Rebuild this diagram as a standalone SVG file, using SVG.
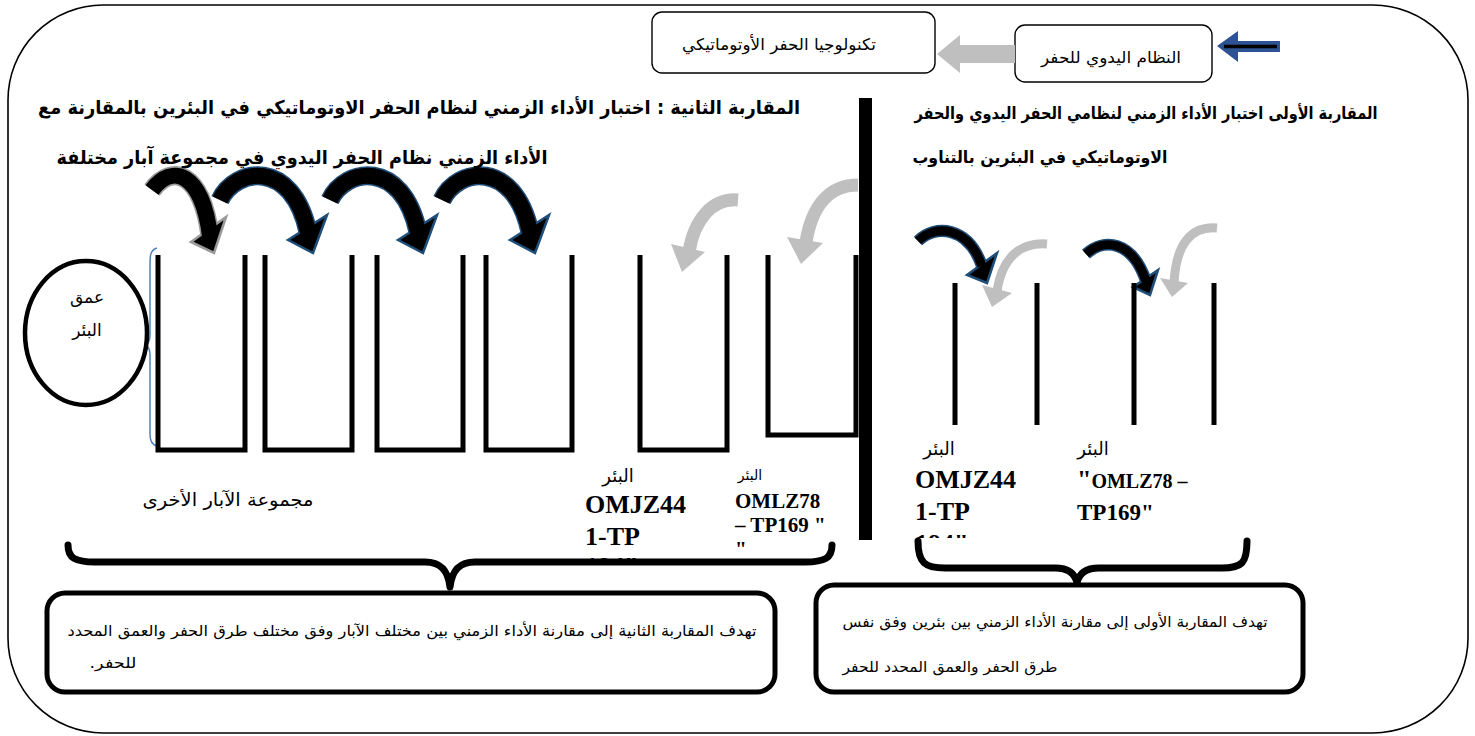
<svg xmlns="http://www.w3.org/2000/svg" width="1475" height="736" viewBox="0 0 1475 736">
<defs>
<style>
.ar { font-family: "DejaVu Sans", sans-serif; direction: rtl; fill: #000; }
.tb { font-weight: bold; }
.lat { font-family: "Liberation Serif", "Times New Roman", serif; font-weight: bold; fill: #000; }
.frame { fill: none; stroke: #000; stroke-width: 1.6; }
.tbox { fill: #fff; stroke: #000; stroke-width: 1.4; }
.bbox { fill: #fff; stroke: #000; stroke-width: 5; }
.well { fill: none; stroke: #000; stroke-width: 5; }
.brace { fill: none; stroke: #000; stroke-width: 7; stroke-linecap: round; stroke-linejoin: round; }
.gshaft { fill: none; stroke: #BFBFBF; stroke-width: 13; }
.gshaft2 { fill: none; stroke: #BFBFBF; stroke-width: 9; }
.ghead { fill: #BFBFBF; }
.bout { fill: none; stroke: #1F4E79; stroke-width: 19; }
.bshaft { fill: none; stroke: #000; stroke-width: 16; }
.bout2 { fill: none; stroke: #1F4E79; stroke-width: 12; }
.bshaft2 { fill: none; stroke: #000; stroke-width: 9; }
.bhead { fill: #000; stroke: #1F4E79; stroke-width: 2.5; stroke-linejoin: miter; }
</style>
<clipPath id="clipL"><rect x="560" y="440" width="160" height="123"/></clipPath>
<clipPath id="clipR"><rect x="900" y="420" width="160" height="118"/></clipPath>
<g id="barrow">
<path class="bout" d="M0,0 C15,-32 72,-42 88,32"/>
<polygon class="bhead" points="68,40 107,15 93,53"/>
<path class="bshaft" d="M0,0 C15,-32 72,-42 88,32"/>
</g>
</defs>

<rect class="frame" x="8" y="5" width="1460" height="728" rx="95" ry="95"/>

<g id="node-auto">
<rect class="tbox" x="652" y="12" width="283" height="61" rx="10"/>
<text class="ar" x="779" y="50" font-size="16" text-anchor="middle" textLength="194" lengthAdjust="spacingAndGlyphs">تكنولوجيا الحفر الأوتوماتيكي</text>
</g>
<g id="node-manual">
<rect class="tbox" x="1015" y="25" width="197" height="57" rx="10"/>
<text class="ar" x="1111" y="63" font-size="16" text-anchor="middle" textLength="140" lengthAdjust="spacingAndGlyphs">النظام اليدوي للحفر</text>
</g>

<g id="connectors">
<polygon fill="#BFBFBF" points="937,54 960,35 960,45 1015,45 1015,63 960,63 960,73"/>
<polygon fill="#2E5395" points="1217,46 1238,31 1238,41 1280,41 1280,52 1238,52 1238,62"/>
<line x1="1224" y1="46.5" x2="1277" y2="46.5" stroke="#000" stroke-width="3.5"/>

<path fill="none" stroke="#9A9A9A" stroke-width="19" d="M152,190 C172,163 202,172 210,236"/>
<polygon fill="#000" stroke="#9A9A9A" stroke-width="2.5" points="191,242 226,217 214,253"/>
<path class="bshaft" d="M152,190 C172,163 202,172 210,236"/>
<use href="#barrow" transform="translate(220,200)"/>
<use href="#barrow" transform="translate(330,200)"/>
<use href="#barrow" transform="translate(442,200)"/>

<path class="gshaft" d="M738,200 C712,198 694,220 689,252"/>
<polygon class="ghead" points="671,244 705,252 682,272"/>
<path class="gshaft" d="M858,185 C830,185 812,205 806,242"/>
<polygon class="ghead" points="787,237 823,243 801,264"/>

<path class="bout2" d="M918,241 C935,224 968,226 982,266"/>
<polygon class="bhead" points="967,275 997,253 987,283"/>
<path class="bshaft2" d="M918,241 C935,224 968,226 982,266"/>
<path class="gshaft2" d="M1047,244 C1020,242 1002,258 997,291"/>
<polygon class="ghead" points="982,285 1012,293 992,307"/>
<path class="bout2" d="M1086,254 C1104,238 1132,240 1146,281"/>
<polygon class="bhead" points="1133,287 1158,270 1150,295"/>
<path class="bshaft2" d="M1086,254 C1104,238 1132,240 1146,281"/>
<path class="gshaft2" d="M1217,228 C1190,226 1176,245 1174,283"/>
<polygon class="ghead" points="1160,278 1188,283 1172,297"/>

<path fill="none" stroke="#4F81BD" stroke-width="1.5" d="M157,248 C150,250 150,256 150,265 L150,335 C150,341 148,344 145,345 C148,346 150,349 150,355 L150,433 C150,440 151,444 157,446"/>
<path class="brace" d="M68,545 C68,558 75,562 95,562 L425,562 C440,562 448,570 450,587 C452,570 460,562 475,562 L805,562 C825,562 832,558 832,545"/>
<path class="brace" d="M918,541 C918,563 925,568 945,568 L1055,568 C1068,568 1075,573 1077,583 C1079,573 1086,568 1099,568 L1222,568 C1242,568 1247,563 1247,541"/>
</g>

<rect x="859" y="98" width="13" height="442" fill="#000"/>

<g id="title-left">
<text class="ar tb" x="419" y="114" font-size="19" text-anchor="middle" textLength="762" lengthAdjust="spacingAndGlyphs">المقاربة الثانية : اختبار الأداء الزمني لنظام الحفر الاوتوماتيكي في البئرين بالمقارنة مع</text>
<text class="ar tb" x="302" y="164" font-size="19" text-anchor="middle" textLength="491" lengthAdjust="spacingAndGlyphs">الأداء الزمني نظام الحفر اليدوي في مجموعة آبار مختلفة</text>
</g>
<g id="title-right">
<text class="ar tb" x="1146" y="119" font-size="17" text-anchor="middle" textLength="463" lengthAdjust="spacingAndGlyphs">المقاربة الأولى اختبار الأداء الزمني لنظامي الحفر اليدوي والحفر</text>
<text class="ar tb" x="1040" y="163" font-size="17" text-anchor="middle" textLength="255" lengthAdjust="spacingAndGlyphs">الاوتوماتيكي في البئرين بالتناوب</text>
</g>

<g id="wells-left">
<path class="well" d="M158,255 V450 H245 V255"/>
<path class="well" d="M265,255 V450 H352 V255"/>
<path class="well" d="M377,255 V450 H463 V255"/>
<path class="well" d="M486,255 V450 H572 V255"/>
<path class="well" d="M640,255 V450 H727 V255"/>
<path class="well" d="M768,255 V435 H856 V255"/>
</g>
<g id="wells-right">
<path class="well" d="M955,283 V425 M1037,283 V425"/>
<path class="well" d="M1134,283 V425 M1214,283 V425"/>
</g>

<g id="depth">
<ellipse cx="86" cy="333" rx="61" ry="72" fill="#fff" stroke="#000" stroke-width="4.5"/>
<text class="ar" x="87" y="303" font-size="17" text-anchor="middle">عمق</text>
<text class="ar" x="87" y="336" font-size="17" text-anchor="middle">البئر</text>
</g>

<g id="label-others">
<text class="ar" x="228" y="506" font-size="18" text-anchor="middle" textLength="171" lengthAdjust="spacingAndGlyphs">مجموعة الآبار الأخرى</text>
</g>

<g id="label-well5">
<text class="ar" x="618" y="482" font-size="18" text-anchor="middle">البئر</text>
<g clip-path="url(#clipL)">
<text class="lat" x="585" y="513" font-size="26">OMJZ44</text>
<text class="lat" x="585" y="545" font-size="26">1-TP</text>
<text class="lat" x="585" y="575" font-size="26">194"</text>
</g>
</g>
<g id="label-well6">
<text class="ar" x="750" y="480" font-size="14" text-anchor="middle">البئر</text>
<text class="lat" x="735" y="508" font-size="21">OMLZ78</text>
<text class="lat" x="735" y="532" font-size="21">– TP169 "</text>
<text class="lat" x="735" y="556" font-size="21">"</text>
</g>
<g id="label-wellA">
<text class="ar" x="939" y="455" font-size="18" text-anchor="middle">البئر</text>
<g clip-path="url(#clipR)">
<text class="lat" x="915" y="488" font-size="26">OMJZ44</text>
<text class="lat" x="915" y="520" font-size="26">1-TP</text>
<text class="lat" x="915" y="552" font-size="26">194"</text>
</g>
</g>
<g id="label-wellB">
<text class="ar" x="1093" y="455" font-size="18" text-anchor="middle">البئر</text>
<text class="lat" x="1077" y="488" font-size="26">"<tspan font-size="20">OMLZ78 –</tspan></text>
<text class="lat" x="1077" y="520" font-size="23">TP169"</text>
</g>

<g id="node-goal2">
<rect class="bbox" x="47" y="593" width="728" height="99" rx="18"/>
<text class="ar" x="412" y="636" font-size="15" text-anchor="middle" textLength="689" lengthAdjust="spacingAndGlyphs">تهدف المقاربة الثانية إلى مقارنة الأداء الزمني بين مختلف الآبار وفق مختلف طرق الحفر والعمق المحدد</text>
<text class="ar" x="113" y="668" font-size="15" text-anchor="middle" textLength="47" lengthAdjust="spacingAndGlyphs">للحفر.</text>
</g>
<g id="node-goal1">
<rect class="bbox" x="816" y="585" width="487" height="107" rx="18"/>
<text class="ar" x="1055" y="627" font-size="15" text-anchor="middle" textLength="425" lengthAdjust="spacingAndGlyphs">تهدف المقاربة الأولى إلى مقارنة الأداء الزمني بين بئرين وفق نفس</text>
<text class="ar" x="950" y="672" font-size="15" text-anchor="middle" textLength="215" lengthAdjust="spacingAndGlyphs">طرق الحفر والعمق المحدد للحفر</text>
</g>
</svg>
